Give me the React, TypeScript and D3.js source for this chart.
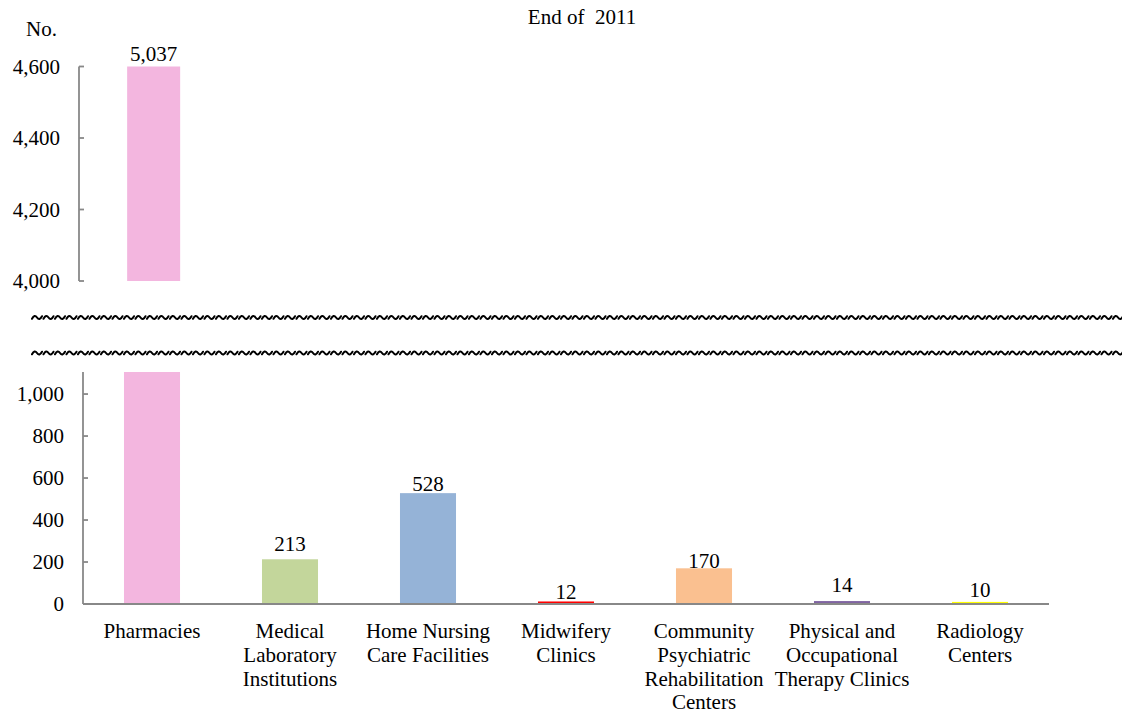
import React from "react";
import * as d3 from "d3";

// Facility counts, end of 2011
const categories = [
  "Pharmacies",
  "Medical\nLaboratory\nInstitutions",
  "Home Nursing\nCare Facilities",
  "Midwifery\nClinics",
  "Community\nPsychiatric\nRehabilitation\nCenters",
  "Physical and\nOccupational\nTherapy Clinics",
  "Radiology\nCenters",
];
const counts = [5037, 213, 528, 12, 170, 14, 10];
const barColors = ["#F3B6DF", "#C3D69B", "#95B3D7", "#FF0000", "#FAC090", "#8064A2", "#FFFF00"];
const upperTicks = [4000, 4200, 4400, 4600];
const lowerTicks = [0, 200, 400, 600, 800, 1000];

const W = 1122;
const H = 713;
const FONT = "Liberation Serif, Times New Roman, Times, serif";
const FS = 21;
const AXIS = "#888888";

// Hand-tuned label lifts above each bar top
const labelLift = [5.5, 8, 2, 2.5, 0, 9, 5];

// A row of tilde-shaped squiggles marking the axis break
function breakPath(x0: number, x1: number, y: number, step: number): string {
  const p = d3.path();
  for (let x = x0; x < x1; x += step) {
    p.moveTo(x, y + 1.3);
    p.quadraticCurveTo(x + 2.6, y - 3.6, x + 5, y);
    p.quadraticCurveTo(x + 7.4, y + 3.6, x + 10, y - 1.3);
  }
  return p.toString();
}

export default function App() {
  const upperY = d3.scaleLinear().domain([4000, 4600]).range([281, 66.5]).clamp(true);
  const lowerY = d3.scaleLinear().domain([0, 1105]).range([604, 372]).clamp(true);
  const lowerX = d3.scaleBand<string>().domain(categories).range([83, 1049]).paddingInner(0.594).paddingOuter(0.297);
  const upperX = d3.scaleBand<string>().domain(categories).range([79, 79 + 7 * 149.3]).paddingInner(0.645).paddingOuter(0.3225);
  const fmt = d3.format(",");

  return (
    <svg width={W} height={H} style={{ position: "absolute", left: 0, top: 0, background: "#fff", fontFamily: FONT, fontSize: FS }}
      fill="#000">
      <text x={582} y={24} textAnchor="middle" style={{ whiteSpace: "pre" }}>{"End of  2011"}</text>
      <text x={57} y={36} textAnchor="end">No.</text>

      {/* upper panel */}
      <line x1={79} x2={79} y1={upperY(4600)} y2={upperY(4000)} stroke={AXIS} strokeWidth={1.8} />
      {upperTicks.map((t) => (
        <g key={"ut" + t}>
          <line x1={79} x2={84} y1={upperY(t)} y2={upperY(t)} stroke={AXIS} strokeWidth={1.8} />
          <text x={60} y={upperY(t)} dy="0.35em" textAnchor="end">{fmt(t)}</text>
        </g>
      ))}
      {categories.map((c, i) =>
        counts[i] > 4000 ? (
          <g key={"ub" + i}>
            <rect x={upperX(c)} width={upperX.bandwidth()} y={upperY(counts[i])}
              height={upperY(4000) - upperY(counts[i])} fill={barColors[i]} />
            <text x={(upperX(c) as number) + upperX.bandwidth() / 2} y={upperY(counts[i]) - labelLift[i]}
              textAnchor="middle">{fmt(counts[i])}</text>
          </g>
        ) : null
      )}

      {/* axis break */}
      <path d={breakPath(32, W, 317.5, 11.5)} fill="none" stroke="#000" strokeWidth={2} strokeLinecap="round" />
      <path d={breakPath(32, W, 353, 11.5)} fill="none" stroke="#000" strokeWidth={2} strokeLinecap="round" />

      {/* lower panel */}
      {categories.map((c, i) => (
        <rect key={"lb" + i} x={lowerX(c)} width={lowerX.bandwidth()} y={lowerY(counts[i])}
          height={lowerY(0) - lowerY(counts[i])} fill={barColors[i]} />
      ))}
      <line x1={83} x2={83} y1={372} y2={lowerY(0)} stroke={AXIS} strokeWidth={1.8} />
      <line x1={83} x2={1049} y1={lowerY(0)} y2={lowerY(0)} stroke={AXIS} strokeWidth={1.8} />
      {lowerTicks.map((t) => (
        <g key={"lt" + t}>
          {t > 0 && <line x1={83} x2={88} y1={lowerY(t)} y2={lowerY(t)} stroke={AXIS} strokeWidth={1.8} />}
          <text x={64} y={lowerY(t)} dy="0.35em" textAnchor="end">{fmt(t)}</text>
        </g>
      ))}
      {categories.map((c, i) =>
        counts[i] < 1105 ? (
          <text key={"lv" + i} x={(lowerX(c) as number) + lowerX.bandwidth() / 2}
            y={lowerY(counts[i]) - labelLift[i]} textAnchor="middle">{fmt(counts[i])}</text>
        ) : null
      )}
      {categories.map((c, i) => (
        <text key={"cl" + i} x={(lowerX(c) as number) + lowerX.bandwidth() / 2} y={638} textAnchor="middle">
          {c.split("\n").map((line, j) => (
            <tspan key={j} x={(lowerX(c) as number) + lowerX.bandwidth() / 2} dy={j === 0 ? 0 : 23.8}>{line}</tspan>
          ))}
        </text>
      ))}
    </svg>
  );
}
